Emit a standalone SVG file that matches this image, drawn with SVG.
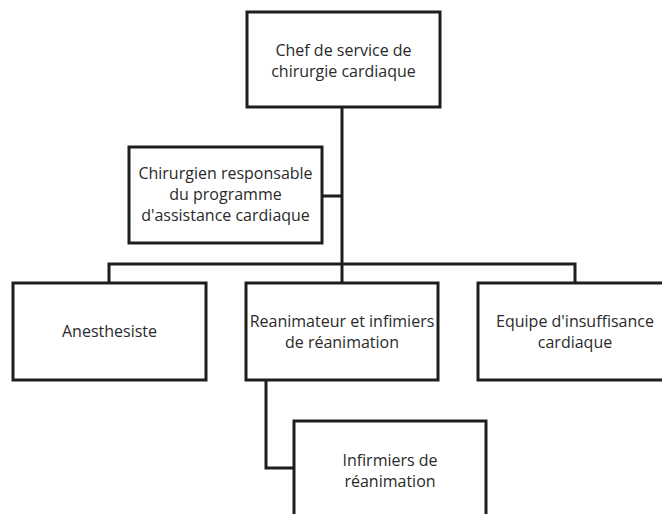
<svg xmlns="http://www.w3.org/2000/svg" width="662" height="514" viewBox="0 0 662 514">
<style>
.box{fill:#fff;stroke:#1e1e1e;stroke-width:3}
.con{fill:none;stroke:#1e1e1e;stroke-width:3}
text{font-family:"Open Sans","Liberation Sans",sans-serif;font-size:16px;fill:#2a2a2a;text-anchor:middle}
</style>
<rect width="662" height="514" fill="#fff"/>
<g id="connectors">
<path class="con" d="M342,107V283M322,196H342M109,283V264H575V283M266,380V468H294"/>
</g>
<g id="chef">
<rect class="box" x="247" y="12" width="193" height="95"/>
<text x="343.5" y="56">Chef de service de</text>
<text x="343.5" y="77">chirurgie cardiaque</text>
</g>
<g id="chirurgien">
<rect class="box" x="129" y="147" width="193" height="96"/>
<text x="225.5" y="179">Chirurgien responsable</text>
<text x="225.5" y="200">du programme</text>
<text x="225.5" y="221">d'assistance cardiaque</text>
</g>
<g id="anesthesiste">
<rect class="box" x="13" y="283" width="193" height="97"/>
<text x="109.5" y="337">Anesthesiste</text>
</g>
<g id="reanimateur">
<rect class="box" x="246" y="283" width="192" height="97"/>
<text x="342" y="327">Reanimateur et infimiers</text>
<text x="342" y="348">de réanimation</text>
</g>
<g id="equipe">
<rect class="box" x="478" y="283" width="194" height="97"/>
<text x="575" y="327">Equipe d'insuffisance</text>
<text x="575" y="348">cardiaque</text>
</g>
<g id="infirmiers">
<rect class="box" x="294" y="421" width="192" height="110"/>
<text x="390" y="466">Infirmiers de</text>
<text x="390" y="487">réanimation</text>
</g>
</svg>
